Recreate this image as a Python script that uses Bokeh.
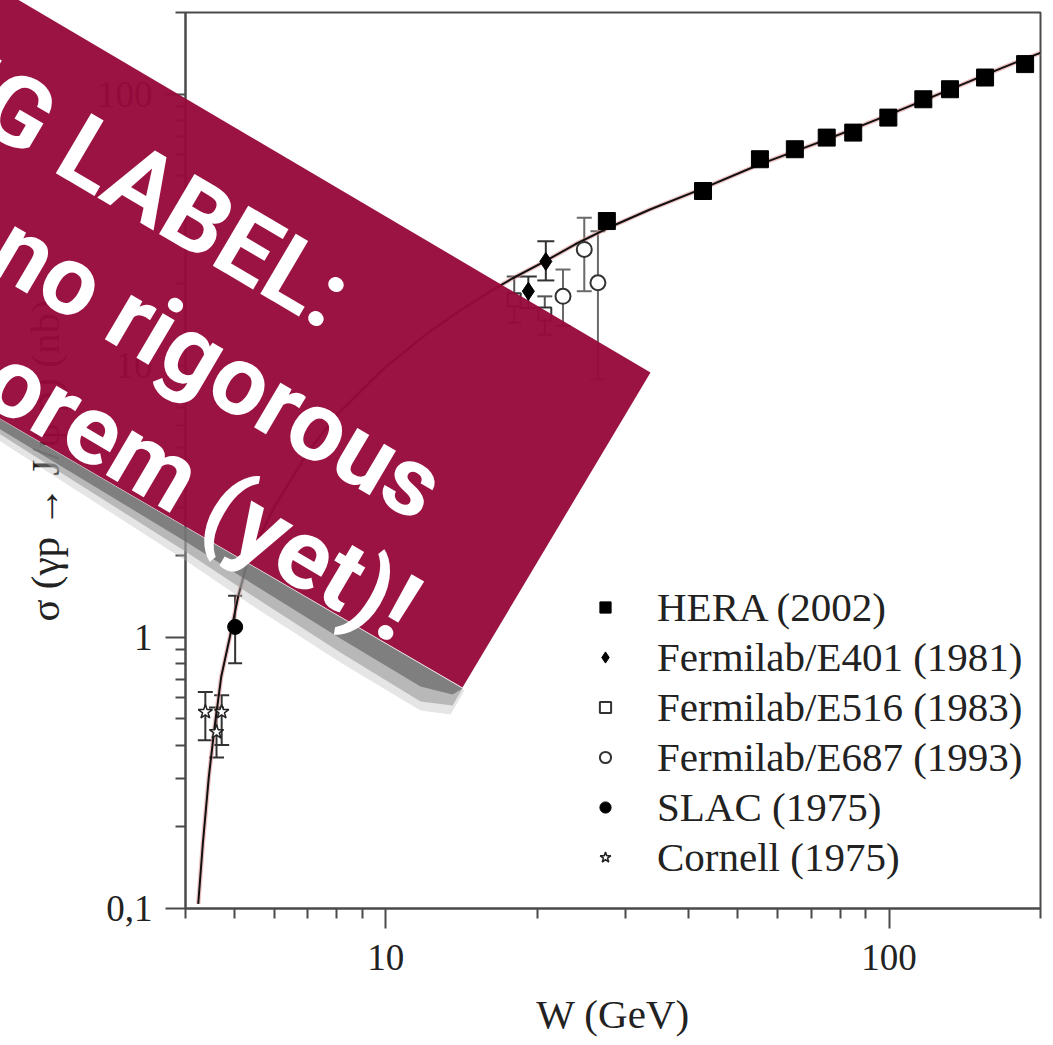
import math
from bokeh.plotting import figure
from bokeh.models import (FixedTicker, CustomJSTickFormatter, Whisker, TeeHead, ColumnDataSource,
                          Legend, LegendItem)
from bokeh.core.properties import value
from bokeh.embed import file_html
from bokeh.resources import INLINE

# ---------------- data ----------------
hera_w = [27.5, 42.7, 55.4, 65.0, 75.2, 84.9, 99.7, 117.0, 132.2, 155.2, 186.4]
hera_sigma = [34.1, 44.0, 57.6, 62.7, 69.2, 72.2, 82.0, 95.8, 104.3, 115.2, 129.1]

e401_w = [19.2, 20.8]
e401_sigma = [18.8, 24.2]
e401_lo = [16.3, 20.6]
e401_hi = [21.3, 28.7]

e516_w = [18.0, 20.7]
e516_sigma = [17.5, 15.5]
e516_lo = [14.4, 13.0]
e516_hi = [21.3, 18.0]

e687_w = [22.5, 24.8, 26.4]
e687_sigma = [18.0, 26.8, 20.2]
e687_lo = [14.0, 18.8, 8.9]
e687_hi = [22.6, 35.1, 31.3]

slac_w = [5.02]
slac_sigma = [1.09]
slac_lo = [0.80]
slac_hi = [1.42]

cornell_w = [4.38, 4.72, 4.61]
cornell_sigma = [0.530, 0.530, 0.447]
cornell_lo = [0.417, 0.40, 0.36]
cornell_hi = [0.628, 0.61, 0.55]

fit_w = [4.24, 4.33, 4.45, 4.57, 4.71, 4.90, 5.09, 5.32, 6.0, 7.0, 8.0, 10.0, 12.0, 14.0,
         16.0, 17.8, 20.7, 23.8, 27.5, 33.5, 42.7, 55.4, 75.3, 99.5, 132.0, 166.0, 186.0, 200.0]
fit_sigma = [0.104, 0.173, 0.305, 0.467, 0.714, 1.0, 1.41, 1.92, 3.0, 4.8, 6.6, 9.9, 13.0, 15.9,
             18.6, 20.9, 24.2, 28.0, 32.0, 37.6, 45.0, 55.2, 68.2, 83.7, 104.0, 124.0, 135.0, 142.0]

x_major = [10, 100]
x_minor = [4, 5, 6, 7, 8, 9, 20, 30, 40, 50, 60, 70, 80, 90, 200]
y_major = [0.1, 1, 10, 100]
y_minor = [0.2, 0.3, 0.4, 0.5, 0.6, 0.7, 0.8, 0.9, 2, 3, 4, 5, 6, 7, 8, 9,
           20, 30, 40, 50, 60, 70, 80, 90, 200]

legend_labels = ["HERA (2002)", "Fermilab/E401 (1981)", "Fermilab/E516 (1983)",
                 "Fermilab/E687 (1993)", "SLAC (1975)", "Cornell (1975)"]
x_title = "W (GeV)"
y_title = "σ (γp → J/ψ p) (nb)"
banner_lines = ["WARNING LABEL:", "no rigorous", "theorem (yet)!"]

# ---------------- layout constants (pixels) ----------------
W_PX, H_PX = 1050, 1042
FL, FR, FT, FB = 185, 1040, 12, 908      # plot frame edges on the canvas
X0, X1, Y0, Y1 = 4, 200, 0.1, 200        # axis ranges

# banner geometry (canvas pixels)
BANNER = [(-300, -188), (650, 372), (462, 687), (-300, 244)]
SHADOW_BLUR = [(-300, 244), (-300, 262), (0, 441), (185, 560), (250, 604), (340, 662),
               (420, 710), (450, 714), (464, 690)]
SHADOW_OUT = [(-300, 244), (-300, 256), (0, 434), (185, 551), (250, 594), (340, 652),
              (420, 701), (452, 705), (462, 688)]
SHADOW_IN = [(-300, 244), (-300, 251), (0, 429), (185, 541), (250, 582), (340, 638),
             (420, 686), (452, 694), (462, 688)]
TEXT_ANCHORS = [(341, 302), (434, 494), (410, 615)]


def px_to_x(px):
    return X0 * (X1 / X0) ** ((px - FL) / (FR - FL))


def py_to_y(py):
    return Y0 * (Y1 / Y0) ** ((FB - py) / (FB - FT))


# ---------------- figure ----------------
SERIF = "Liberation Serif"
INK = "#222222"
AX = "#4a4a4a"

p = figure(width=W_PX, height=H_PX, x_axis_type="log", y_axis_type="log",
           x_range=(X0, X1), y_range=(Y0, Y1),
           output_backend="svg", toolbar_location=None,
           min_border_left=FL, min_border_right=W_PX - FR, min_border_top=FT,
           min_border_bottom=H_PX - FB)
p.xgrid.visible = False
p.ygrid.visible = False
p.outline_line_color = AX
p.outline_line_width = 2
p.background_fill_color = "white"
p.border_fill_color = "white"

p.xaxis.ticker = FixedTicker(ticks=x_major, minor_ticks=x_minor)
p.yaxis.ticker = FixedTicker(ticks=y_major, minor_ticks=y_minor)
fmt = "return tick < 1 ? tick.toString().replace('.', ',') : tick.toString();"
p.xaxis.formatter = CustomJSTickFormatter(code=fmt)
p.yaxis.formatter = CustomJSTickFormatter(code=fmt)

for ax in (p.xaxis[0], p.yaxis[0]):
    ax.axis_line_color = AX
    ax.axis_line_width = 2
    ax.major_tick_line_color = AX
    ax.major_tick_line_width = 2
    ax.minor_tick_line_color = AX
    ax.minor_tick_line_width = 2
    ax.major_tick_in = 0
    ax.major_tick_out = 20
    ax.minor_tick_in = 0
    ax.minor_tick_out = 10
    ax.major_label_text_font = SERIF
    ax.major_label_text_font_size = "37px"
    ax.major_label_text_color = INK
    ax.axis_label_text_font = SERIF
    ax.axis_label_text_font_style = "normal"
    ax.axis_label_text_font_size = "41px"
    ax.axis_label_text_color = INK

p.xaxis.axis_label = x_title
p.yaxis.axis_label = y_title
p.xaxis.major_label_standoff = 16
p.xaxis.axis_label_standoff = 18
p.yaxis.major_label_standoff = 13
p.yaxis.axis_label_standoff = 26

# ---------------- error bars ----------------
def bars(w, lo, hi, color, cap):
    src = ColumnDataSource(dict(w=w, lo=lo, hi=hi))
    wk = Whisker(source=src, base="w", lower="lo", upper="hi", dimension="height",
                 line_color=color, line_width=2,
                 upper_head=TeeHead(size=cap, line_color=color, line_width=2),
                 lower_head=TeeHead(size=cap, line_color=color, line_width=2))
    p.add_layout(wk)

bars(e401_w, e401_lo, e401_hi, "#333333", 17)
bars(e516_w, e516_lo, e516_hi, "#555555", 15)
bars(e687_w, e687_lo, e687_hi, "#6a6a6a", 15)
bars(slac_w, slac_lo, slac_hi, "#333333", 14)
bars(cornell_w, cornell_lo, cornell_hi, "#333333", 15)

# ---------------- fit curve ----------------
p.line(fit_w, fit_sigma, line_color="#e09090", line_width=4.5, line_alpha=0.55)
p.line(fit_w, fit_sigma, line_color="#111111", line_width=2)

# ---------------- data points ----------------
r_hera = p.scatter(hera_w, hera_sigma, marker="square", size=17, fill_color="black", line_color="black")
r_e401 = p.scatter(e401_w, e401_sigma, marker="diamond", size=18, fill_color="black", line_color="black")
r_e516 = p.scatter(e516_w, e516_sigma, marker="square", size=13, fill_color="white",
                   line_color="#333333", line_width=2)
r_e687 = p.scatter(e687_w, e687_sigma, marker="circle", size=15, fill_color="white",
                   line_color="#333333", line_width=2)
r_slac = p.scatter(slac_w, slac_sigma, marker="circle", size=15, fill_color="black", line_color="black")
r_corn = p.scatter(cornell_w, cornell_sigma, marker="star", size=15, fill_color="white",
                   line_color="#222222", line_width=1.5)

legend = Legend(items=[LegendItem(label=legend_labels[0], renderers=[r_hera]),
                       LegendItem(label=legend_labels[1], renderers=[r_e401]),
                       LegendItem(label=legend_labels[2], renderers=[r_e516]),
                       LegendItem(label=legend_labels[3], renderers=[r_e687]),
                       LegendItem(label=legend_labels[4], renderers=[r_slac]),
                       LegendItem(label=legend_labels[5], renderers=[r_corn])],
                location=(406, 27), glyph_width=28, glyph_height=40, label_height=40,
                spacing=2, label_standoff=38, padding=0, margin=0,
                border_line_alpha=0, background_fill_alpha=0,
                label_text_font=SERIF, label_text_font_size="41px", label_text_color=INK)
p.add_layout(legend)

# ---------------- warning banner (overlay level, drawn over axes too) ----------------
def poly(pts):
    return [px_to_x(a) for a, _ in pts], [py_to_y(b) for _, b in pts]

sx, sy = poly(SHADOW_BLUR)
p.patch(sx, sy, fill_color="#b4b4b4", fill_alpha=0.35, line_color=None, level="overlay")
sx, sy = poly(SHADOW_OUT)
p.patch(sx, sy, fill_color="#9a9a9a", fill_alpha=0.6, line_color=None, level="overlay")
sx, sy = poly(SHADOW_IN)
p.patch(sx, sy, fill_color="#6c6c6c", fill_alpha=0.75, line_color=None, level="overlay")
bx, by = poly(BANNER)
p.patch(bx, by, fill_color="#97093a", fill_alpha=0.96, line_color=None, level="overlay")

tx = [px_to_x(a) for a, _ in TEXT_ANCHORS]
ty = [py_to_y(b) for _, b in TEXT_ANCHORS]
p.text(x=tx, y=ty, text=banner_lines, angle=-30.5, angle_units="deg",
       text_align="right", text_baseline="alphabetic", text_color="white",
       text_font=value("Roboto"), text_font_style="bold", text_font_size=value("98px"),
       level="overlay")

open("out.html", "w").write(file_html(p, INLINE))
